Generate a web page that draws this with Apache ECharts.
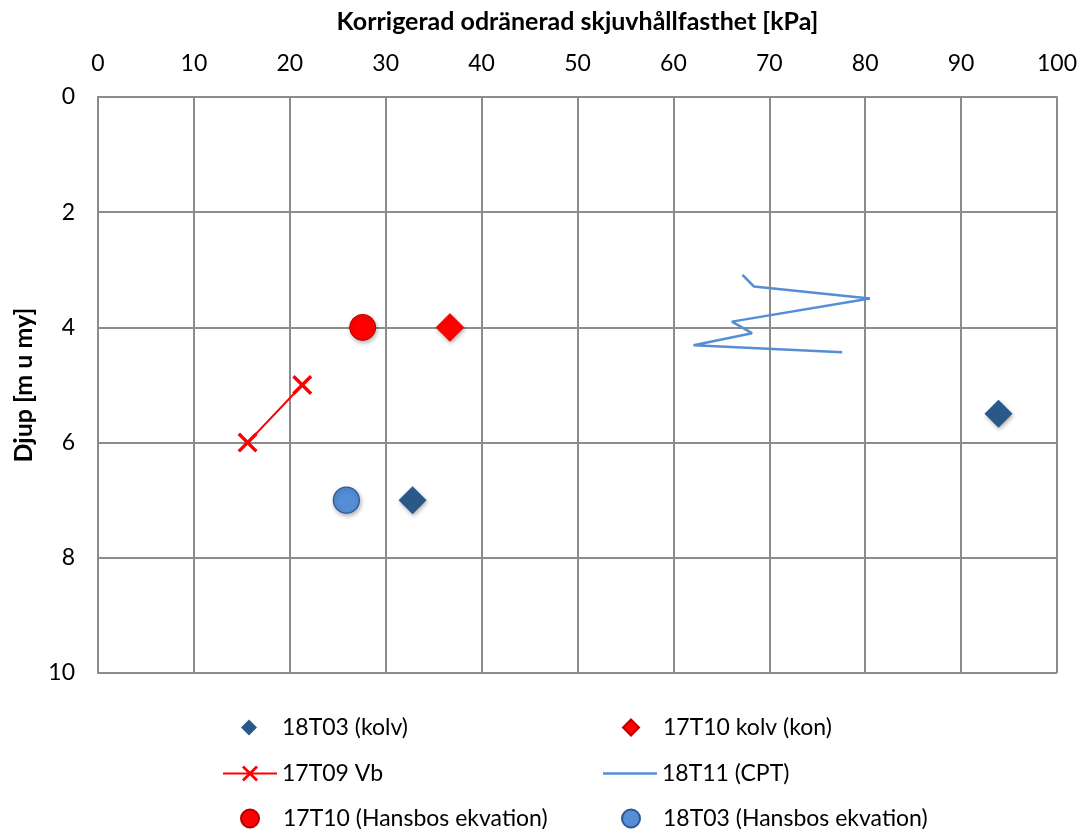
<!DOCTYPE html>
<html>
<head>
<meta charset="utf-8">
<script src="https://cdn.jsdelivr.net/npm/echarts@6/dist/echarts.min.js"></script>
<style>html,body{margin:0;padding:0;background:#fff}#c{width:1080px;height:829px}</style>
</head>
<body>
<div id="c"></div>
<script>
const xTicks = [0,10,20,30,40,50,60,70,80,90,100];
const yTicks = [0,2,4,6,8,10];
const s18T03kolv = [[32.8,7.0],[93.9,5.5]];
const s17T10kon = [[36.7,4.0]];
const s17T09Vb = [[21.3,5.0],[15.6,6.0]];
const s18T11CPT = [[67.2,3.09],[68.4,3.29],[80.5,3.50],[66.1,3.90],[68.2,4.10],[62.1,4.31],[77.6,4.43]];
const s17T10Hansbo = [[27.6,4.0]];
const s18T03Hansbo = [[25.9,7.0]];
const names = ['18T03 (kolv)','17T10 kolv (kon)','17T09 Vb','18T11 (CPT)','17T10 (Hansbos ekvation)','18T03 (Hansbos ekvation)'];

const FONT = 'Lato';
const crossPath = 'path://M0,1.2L1.2,0L10,8.8L8.8,10Z M8.8,0L10,1.2L1.2,10L0,8.8Z';
const chart = echarts.init(document.getElementById('c'), null, {renderer:'canvas'});
const gridColor = '#8c8c8c';
function leg(item, left, top, w, h, pad){
  return {
    data:[item], left:left, top:top, itemWidth:w, itemHeight:h, itemGap:0,
    textStyle:{fontFamily:FONT, fontSize:23, color:'#000', padding:[0,0,0,pad]}, padding:0, orient:'horizontal'
  };
}
chart.setOption({
  animation:false,
  backgroundColor:'#fff',
  textStyle:{fontFamily:FONT},
  grid:{left:98, right:22, top:97, bottom:156, containLabel:false},
  legend:[
    leg(names[0], 241, 716, 16, 16, 20),
    leg(names[1], 622, 716, 16, 16, 19),
    leg(names[2], 222, 762, 54, 20, 0),
    leg({name:names[3], icon:'rect'}, 603, 762, 54, 2.5, 0),
    leg(names[4], 240, 807, 18, 18, 19),
    leg(names[5], 621, 807, 18, 18, 18)
  ],
  xAxis:{
    type:'value', position:'top', min:0, max:100, interval:10,
    name:'Korrigerad odränerad skjuvhållfasthet [kPa]', nameLocation:'middle', nameGap:63,
    nameTextStyle:{fontFamily:FONT, fontSize:25, fontWeight:'bold', color:'#000'},
    axisLine:{show:true, lineStyle:{color:gridColor, width:2}},
    axisTick:{show:false},
    axisLabel:{fontFamily:FONT, fontSize:23, color:'#000', margin:22,
      formatter:function(v){return xTicks.indexOf(v)>=0?String(v):'';}},
    splitLine:{show:true, lineStyle:{color:gridColor, width:2}}
  },
  yAxis:{
    type:'value', inverse:true, min:0, max:10, interval:2,
    name:'Djup [m u my]', nameLocation:'middle', nameGap:62, nameRotate:90,
    nameTextStyle:{fontFamily:FONT, fontSize:25, fontWeight:'bold', color:'#000'},
    axisLine:{show:true, lineStyle:{color:gridColor, width:2}},
    axisTick:{show:false},
    axisLabel:{fontFamily:FONT, fontSize:23, color:'#000', margin:23,
      formatter:function(v){return yTicks.indexOf(v)>=0?String(v):'';}},
    splitLine:{show:true, lineStyle:{color:gridColor, width:2}}
  },
  series:[
    {name:names[0], type:'scatter', data:s18T03kolv, symbol:'diamond', symbolSize:28,
     itemStyle:{color:'#2a5889', opacity:1, shadowBlur:4, shadowColor:'rgba(0,0,0,0.3)', shadowOffsetX:1, shadowOffsetY:2}, z:5},
    {name:names[1], type:'scatter', data:s17T10kon, symbol:'diamond', symbolSize:28,
     itemStyle:{color:'#ff0000', opacity:1, borderColor:'#c00000', borderWidth:0.5, shadowBlur:4, shadowColor:'rgba(0,0,0,0.3)', shadowOffsetX:1, shadowOffsetY:2}, z:5},
    {name:names[2], type:'line', data:s17T09Vb, symbol:crossPath, symbolSize:20, showSymbol:true,
     lineStyle:{color:'#ff0000', width:2}, itemStyle:{color:'#ff0000'}, z:5},
    {name:names[3], type:'line', data:s18T11CPT, symbol:'none', showSymbol:false,
     lineStyle:{color:'#558ed5', width:2.5}, itemStyle:{color:'#558ed5'}, z:4},
    {name:names[4], type:'scatter', data:s17T10Hansbo, symbol:'circle', symbolSize:26,
     itemStyle:{color:'#ff0000', opacity:1, borderColor:'#b00000', borderWidth:1, shadowBlur:4, shadowColor:'rgba(0,0,0,0.3)', shadowOffsetX:1, shadowOffsetY:2}, z:5},
    {name:names[5], type:'scatter', data:s18T03Hansbo, symbol:'circle', symbolSize:26,
     itemStyle:{color:'#558ed5', opacity:1, borderColor:'#2f5597', borderWidth:1.2, shadowBlur:4, shadowColor:'rgba(0,0,0,0.3)', shadowOffsetX:1, shadowOffsetY:2}, z:5}
  ]
});
</script>
</body>
</html>
